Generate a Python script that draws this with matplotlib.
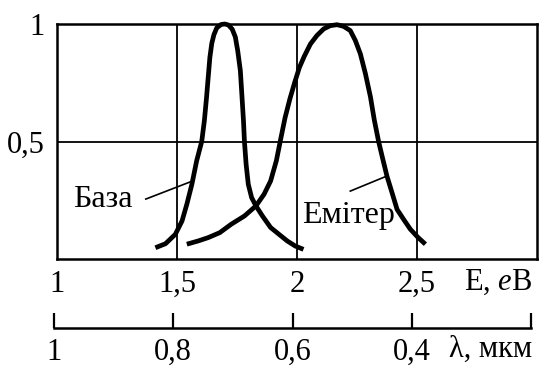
import matplotlib
matplotlib.use("Agg")
import matplotlib.pyplot as plt

plt.rcParams['font.family'] = ['Liberation Serif', 'DejaVu Serif']
plt.rcParams['mathtext.fontset'] = 'custom'
plt.rcParams['mathtext.rm'] = 'Liberation Serif'
plt.rcParams['mathtext.it'] = 'Liberation Serif:italic'

# ---- data ----
baza_x = [1.41, 1.452, 1.493, 1.521, 1.541, 1.562, 1.582, 1.603, 1.614, 1.623,
          1.630, 1.637, 1.645, 1.654, 1.666, 1.684, 1.699, 1.714, 1.730, 1.743,
          1.753, 1.764, 1.771, 1.777, 1.781, 1.788, 1.797, 1.811, 1.829, 1.856,
          1.890, 1.925, 1.959, 1.993, 2.027]
baza_y = [0.048, 0.065, 0.105, 0.162, 0.233, 0.318, 0.418, 0.50, 0.588, 0.687,
          0.773, 0.858, 0.918, 0.955, 0.984, 0.998, 1.0, 0.996, 0.978, 0.945,
          0.886, 0.801, 0.687, 0.588, 0.50, 0.403, 0.318, 0.261, 0.226, 0.183,
          0.134, 0.105, 0.077, 0.055, 0.041]

emiter_x = [1.541, 1.589, 1.630, 1.678, 1.726, 1.781, 1.829, 1.863, 1.890, 1.914,
            1.930, 1.950, 1.970, 1.990, 2.010, 2.030, 2.056, 2.083, 2.111, 2.139,
            2.167, 2.194, 2.222, 2.243, 2.264, 2.285, 2.306, 2.322, 2.340, 2.358,
            2.375, 2.396, 2.417, 2.444, 2.472, 2.504, 2.535]
emiter_y = [0.063, 0.077, 0.091, 0.112, 0.148, 0.183, 0.226, 0.276, 0.332, 0.418,
            0.50, 0.60, 0.680, 0.750, 0.815, 0.862, 0.915, 0.951, 0.979, 0.993,
            0.997, 0.990, 0.972, 0.930, 0.873, 0.789, 0.690, 0.592, 0.50, 0.423,
            0.352, 0.282, 0.211, 0.169, 0.127, 0.092, 0.063]

e_ticks = [1, 1.5, 2, 2.5]
e_labels = ['1', '1,5', '2', '2,5']
lam_ticks = [1, 1.5, 2, 2.5, 3]
lam_labels = ['1', '0,8', '0,6', '0,4', '']
y_ticks = [0.5, 1]
y_labels = ['0,5', '1']

FS = 22
FL = 23

fig = plt.figure(figsize=(5.47, 3.69), dpi=100)
ax = fig.add_axes([57/547, 1-259/369, 480/547, 235/369])
ax.set_xlim(1, 3)
ax.set_ylim(0, 1)

for s in ax.spines.values():
    s.set_linewidth(1.8)
    s.set_color('black')

for gx in e_ticks[1:]:
    ax.axvline(gx, color='black', lw=1.3, zorder=1)
ax.axhline(0.5, color='black', lw=1.3, zorder=1)

ax.plot(baza_x, baza_y, color='black', lw=3.4, solid_capstyle='butt',
        solid_joinstyle='round', zorder=3, clip_on=False)
ax.plot(emiter_x, emiter_y, color='black', lw=3.4, solid_capstyle='butt',
        solid_joinstyle='round', zorder=3, clip_on=False)

ax.set_xticks(e_ticks)
ax.set_xticklabels(e_labels, fontsize=FS)
ax.set_yticks(y_ticks)
ax.set_yticklabels(y_labels, fontsize=FS)
ax.tick_params(axis='x', length=0, pad=8)
ax.tick_params(axis='y', length=0, pad=9)

ax.text(2.84, -0.10, r'E, $\mathit{e}$В', fontsize=FS, ha='center', va='center',
        transform=ax.get_xaxis_transform())

# annotations
ax.text(1.19, 0.255, 'База', fontsize=FL, ha='center', va='center')
ax.plot([1.37, 1.56], [0.255, 0.33], color='black', lw=1.2)
ax.text(2.215, 0.185, 'Емітер', fontsize=FL, ha='center', va='center', zorder=2)
ax.plot([2.222, 2.372], [0.289, 0.352], color='black', lw=1.2)

# wavelength axis
lax = fig.add_axes([54/547, 1-328/369, 477/547, 30/369])
lax.set_xlim(1, 3)
lax.set_ylim(0, 1)
lax.patch.set_visible(False)
for k in ['top', 'left', 'right']:
    lax.spines[k].set_visible(False)
lax.spines['bottom'].set_linewidth(1.8)
lax.set_yticks([])
lax.set_xticks(lam_ticks)
lax.set_xticklabels(lam_labels, fontsize=FS)
lax.tick_params(axis='x', direction='in', length=11, width=1.6, pad=7)
lax.text(2.83, -0.72, 'λ, мкм', fontsize=FS, ha='center', va='center',
         transform=lax.get_xaxis_transform())

fig.savefig('out.png', dpi=100)
